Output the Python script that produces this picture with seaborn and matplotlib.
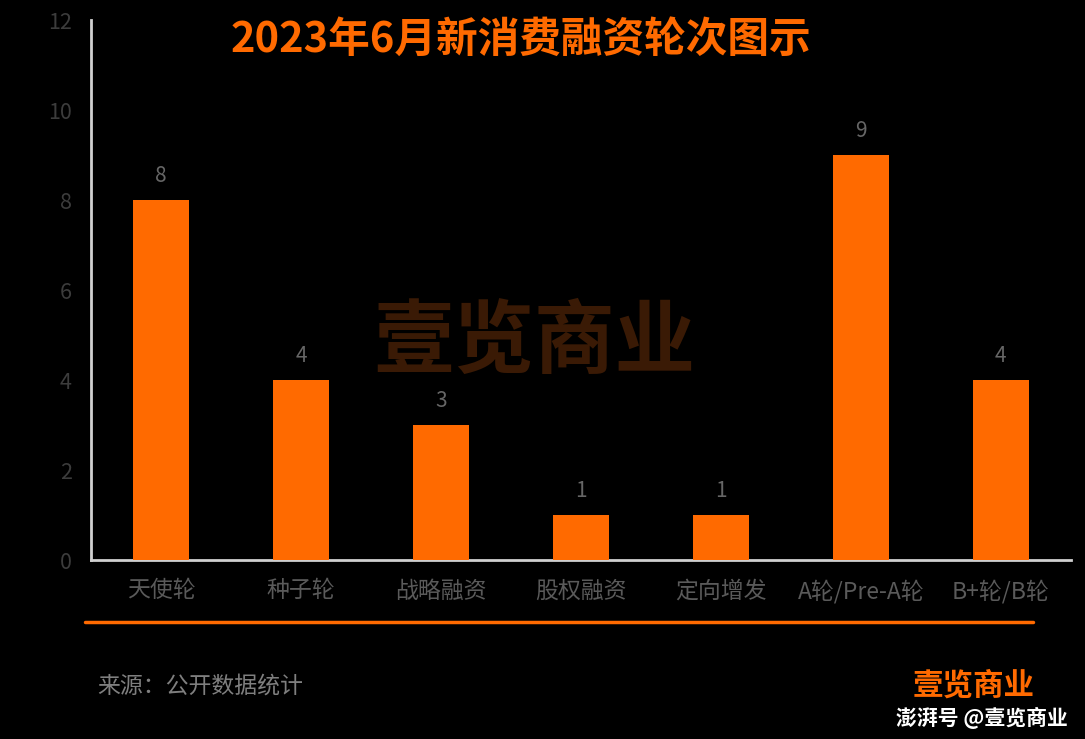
import matplotlib
matplotlib.use("Agg")
import matplotlib.pyplot as plt
import seaborn as sns
import pandas as pd

# data
rounds = ["天使轮", "种子轮", "战略融资", "股权融资", "定向增发", "A轮/Pre-A轮", "B+轮/B轮"]
counts = [8, 4, 3, 1, 1, 9, 4]
y_ticks = [0, 2, 4, 6, 8, 10, 12]

df = pd.DataFrame({"round": rounds, "count": counts})

sns.set_style("dark")
plt.rcParams["font.family"] = ["Noto Sans CJK SC", "DejaVu Sans"]

orange = "#ff6a00"
fig = plt.figure(figsize=(10.85, 7.39), dpi=100, facecolor="black")
ax = fig.add_axes([0.0839, 0.2422, 0.903, 0.7307])
ax.set_facecolor("black")

# watermark behind the bars
fig.text(0.492, 0.535, "壹览商业", color="#3a1a05", fontsize=58, fontweight="bold",
         ha="center", va="center", zorder=0)

sns.barplot(data=df, x="round", y="count", color=orange, width=0.4,
            saturation=1, linewidth=0, ax=ax, zorder=3)

ax.set_xlim(-0.5, 6.5)
ax.set_ylim(0, 12)
ax.set_yticks(y_ticks)
ax.grid(False)
ax.set_xlabel("")
ax.set_ylabel("")
ax.tick_params(axis="y", colors="#3c3c3c", labelsize=15.5, length=0, pad=14)
ax.tick_params(axis="x", colors="#5a5a5a", labelsize=16.5, length=0, pad=14)
for lbl in ax.get_yticklabels():
    lbl.set_fontweight("light")

for s in ["top", "right"]:
    ax.spines[s].set_visible(False)
for s in ["left", "bottom"]:
    ax.spines[s].set_color("#d0d0d0")
    ax.spines[s].set_linewidth(2)

for i, v in enumerate(counts):
    ax.text(i, v + 0.3, str(v), ha="center", va="bottom", color="#666666",
            fontsize=15, zorder=4)

fig.text(0.48, 0.946, "2023年6月新消费融资轮次图示", color=orange, fontsize=30,
         fontweight="bold", ha="center", va="center")

# orange separator line
fig.add_artist(plt.Line2D([85 / 1085, 1033 / 1085], [1 - 622 / 739, 1 - 622 / 739],
                          color=orange, linewidth=2.5, transform=fig.transFigure))

fig.text(97 / 1085, 1 - 686 / 739, "来源：公开数据统计", color="#7f7f7f", fontsize=16.5,
         ha="left", va="center")

# bottom-right logos
fig.text(974 / 1085, 1 - 686 / 739, "壹览商业", color=orange, fontsize=22,
         fontweight="bold", ha="center", va="center")
fig.text(1068 / 1085, 1 - 718 / 739, "澎湃号 @壹览商业", color="white", fontsize=15,
         fontweight="bold", ha="right", va="center")

fig.savefig("out.png", dpi=100, facecolor="black")
